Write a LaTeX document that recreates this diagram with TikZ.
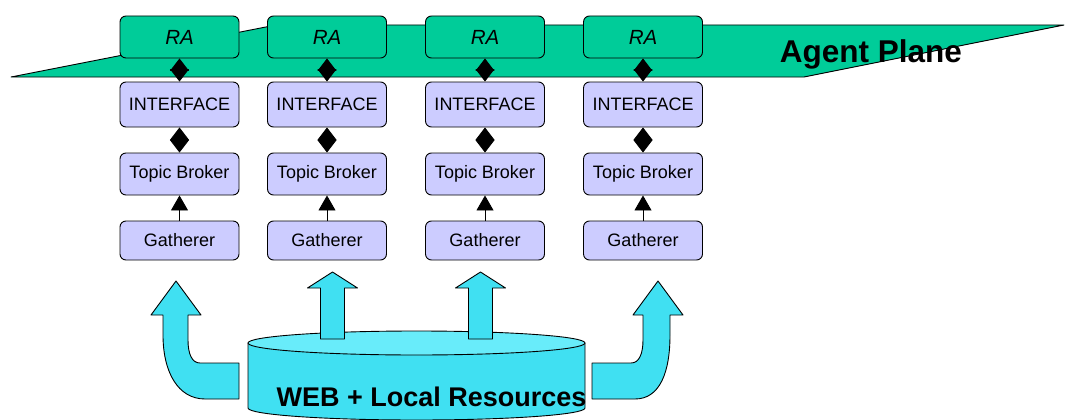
\documentclass[tikz,border=0pt]{standalone}
\usepackage{fontspec}
\setmainfont{Liberation Sans}
\usetikzlibrary{arrows.meta}

\begin{document}
\begin{tikzpicture}[x=1pt,y=-1pt,line join=round,line cap=round]
        \definecolor{plane_green}{RGB}{0,204,153}
        \definecolor{box_lilac}{RGB}{204,204,255}
        \definecolor{res_cyan}{RGB}{64,224,242}
        \definecolor{res_light}{RGB}{104,236,250}
        \tikzset{
                hop/.style={draw=black,line width=.9pt,rounded corners=6pt,fill=box_lilac,
                        minimum width=119pt,inner sep=0pt,font=\fontsize{18}{18}\selectfont},
                agent/.style={hop,fill=plane_green,minimum height=42pt,
                        font=\fontsize{20.5}{20.5}\selectfont\itshape},
                link/.style={line width=.9pt,{Triangle[width=19pt,length=12.5pt]}-{Triangle[width=19pt,length=12.5pt]}},
                feed/.style={line width=.9pt,-{Triangle[width=17pt,length=15pt]}},
                flow/.style={draw=black,line width=.9pt,fill=res_cyan},
                lift/.pic={
                        \def\s{12}
                        \def\h{25}
                        \draw[flow] (-\s,0) -- (-\s,-51) -- (-\h,-51) -- (0,-67)
                        -- (\h,-51) -- (\s,-51) -- (\s,0) -- cycle;
                }
        }
        \useasboundingbox (0,0) rectangle (1065,420);
        \path
        (11,77) coordinate (P1)
        (276,25) coordinate (P2)
        (1064,25) coordinate (P3)
        (804,77) coordinate (P4)
        ;
        % agent plane
        \draw[line width=.9pt,fill=plane_green] (P1) -- (P2) -- (P3) -- (P4) -- cycle;
        % the four columns
        \foreach \n/\x in {1/179.5,2/327,3/485,4/643}{
                \node[agent] (ra\n) at (\x,37) {RA};
                \node[hop,minimum height=45pt] (if\n) at (\x,104.5) {INTERFACE};
                \node[hop,minimum height=42pt] (tb\n) at (\x,174) {Topic Broker};
                \node[hop,minimum height=39pt] (ga\n) at (\x,240.5) {Gatherer};
                \draw[link] (ra\n) -- (if\n);
                \draw[link] (if\n) -- (tb\n);
                \draw[feed] (ga\n) -- (tb\n);
        }
        \node[anchor=base,font=\bfseries\fontsize{31.5}{31.5}\selectfont] (plane) at (871,63) {Agent Plane};
        % resources
        \draw[flow] (248,343) -- (248,408) arc[start angle=180,end angle=0,x radius=168.5,y radius=12]
        -- (585,343) -- cycle;
        \draw[flow,fill=res_light] (416.5,343) ellipse[x radius=168.5,y radius=12];
        \path (332.5,339) pic{lift} (480.5,339) pic{lift};
        \draw[flow] (239,363) -- (200,363) .. controls (192,363) and (188,354) .. (188,340)
        -- (188,315) -- (201,315) -- (176,281) -- (151,315) -- (163,315) -- (163,335)
        .. controls (163,372) and (178,399) .. (205,399) -- (239,399) -- cycle;
        \draw[flow] (592,363) -- (631,363) .. controls (639,363) and (643,354) .. (643,340)
        -- (643,315) -- (633,315) -- (658,281) -- (683,315) -- (670,315) -- (670,335)
        .. controls (670,372) and (660,399) .. (635,399) -- (592,399) -- cycle;
        \node[anchor=base west,font=\bfseries\fontsize{27}{27}\selectfont] (res) at (273,406) {WEB + Local Resources};
\end{tikzpicture}
\end{document}
